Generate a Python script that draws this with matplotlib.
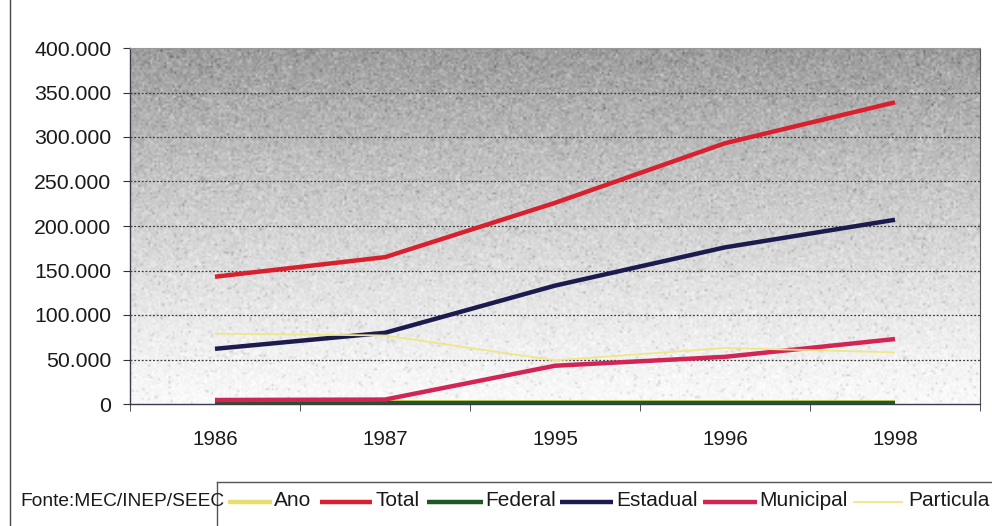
import numpy as np
import matplotlib
matplotlib.use("Agg")
import matplotlib.pyplot as plt
from matplotlib.lines import Line2D

plt.rcParams['font.family'] = ['Liberation Sans', 'DejaVu Sans']

# Matrículas por dependência administrativa
anos = ["1986", "1987", "1995", "1996", "1998"]
ano_vals = [1986, 1987, 1995, 1996, 1998]
total = [143000, 165000, 226000, 293000, 339000]
federal = [1000, 1000, 1000, 1000, 1000]
estadual = [62000, 80000, 133000, 176000, 207000]
municipal = [4500, 5000, 43000, 53000, 73000]
particular = [79000, 77000, 49000, 63000, 58000]

series = [
    ("Ano", ano_vals, "#e6df6e", 3.2),
    ("Total", total, "#d8202e", 3.2),
    ("Federal", federal, "#1d5a22", 3.2),
    ("Estadual", estadual, "#1b1b4e", 3.2),
    ("Municipal", municipal, "#d32456", 3.2),
    ("Particula", particular, "#efe68a", 1.3),
]

W, H = 992, 526
fig = plt.figure(figsize=(W / 100, H / 100), dpi=100)
ax = fig.add_axes([130 / W, 1 - 404 / H, 850 / W, 356 / H])

x = np.arange(len(anos))
ax.set_xlim(-0.5, len(anos) - 0.5)
ax.set_ylim(0, 400000)

# shaded, grainy plot background (dark at top, fading to white)
rows, cols = 180, 420
t = np.linspace(0, 1, rows)[:, None]  # 0 bottom -> 1 top
base = 0.975 - 0.36 * t ** 1.25
rng = np.random.default_rng(7)
grain = rng.normal(0, 0.035, (rows, cols)) * (0.4 + t)
speck = (rng.random((rows, cols)) < 0.03) * -0.12
img = np.clip(base + grain + speck, 0, 1)
ax.imshow(img, cmap="gray", vmin=0, vmax=1, origin="lower", aspect="auto",
          extent=(-0.5, len(anos) - 0.5, 0, 400000), zorder=0,
          interpolation="bilinear")

# dotted horizontal gridlines
for yv in range(50000, 400001, 50000):
    ax.axhline(yv, color="#3a3a3a", lw=0.9, ls=(0, (1.5, 1.5)), zorder=1)

for name, vals, col, lw in series:
    ax.plot(x, vals, color=col, lw=lw, solid_capstyle="butt", zorder=3)

ax.set_yticks(range(0, 400001, 50000))
ax.set_yticklabels(["0" if v == 0 else f"{v // 1000}.000" for v in range(0, 400001, 50000)],
                   fontsize=15.3, color="#1a1a1a")
ax.set_xticks(x)
ax.set_xticklabels(anos, fontsize=14.8, color="#1a1a1a")
ax.set_xticks(np.arange(-0.5, len(anos)), minor=True)
ax.tick_params(axis="x", which="major", length=0, pad=19)
ax.tick_params(axis="x", which="minor", length=5, color="#333")
ax.tick_params(axis="y", length=5, color="#333", pad=8.5)

for s in ["left", "bottom"]:
    ax.spines[s].set_color("#3a3a50")
    ax.spines[s].set_linewidth(1.0)
ax.spines["right"].set_color("#555")
ax.spines["top"].set_color("#999")

# outer frame line on the left
fig.add_artist(Line2D([10 / W, 10 / W], [0, 1], color="#444", lw=1.0))

# source note
fig.text(20 / W, 1 - 506 / H, "Fonte:MEC/INEP/SEEC", fontsize=13.8, va="baseline",
         ha="left", color="#1a1a1a")

# legend box
fig.patches.append(plt.Rectangle((217.5 / W, 0), 1, 1 - 482.5 / H, transform=fig.transFigure,
                                 facecolor="white", edgecolor="none", zorder=0))
fig.add_artist(Line2D([217 / W, 1.0], [1 - 482 / H, 1 - 482 / H], color="#555", lw=1.0))
fig.add_artist(Line2D([217 / W, 217 / W], [0, 1 - 482 / H], color="#555", lw=1.0))

line_y = 1 - 502 / H
text_y = 1 - 506 / H
entries = [
    (228, 272, 274),
    (320, 372, 376),
    (427, 483, 485),
    (560, 613, 616),
    (703, 757, 759),
    (853, 903, 908),
]
for (x0, x1, xt), (name, vals, col, lw) in zip(entries, series):
    fig.add_artist(Line2D([x0 / W, x1 / W], [line_y, line_y], color=col,
                          lw=lw, solid_capstyle="butt"))
    fig.text(xt / W, text_y, name, fontsize=15, va="baseline", ha="left", color="#1a1a1a")

fig.savefig("out.png", dpi=100)
